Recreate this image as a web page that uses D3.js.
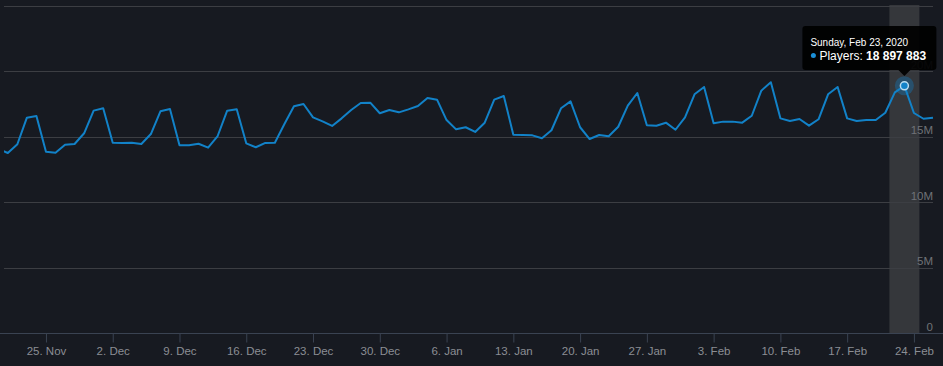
<!DOCTYPE html>
<html>
<head>
<meta charset="utf-8">
<script src="https://cdn.jsdelivr.net/npm/d3@7"></script>
<style>
  html, body { margin: 0; padding: 0; background: #171a21; }
  svg { display: block; font-family: "Liberation Sans", Arial, sans-serif; }
</style>
</head>
<body>
<svg id="chart" width="943" height="366"></svg>
<script>
// ---- data (daily players, millions), first day 2019-11-20 ----
const startDay = "2019-11-20";
const players = [
  14.07, 13.76, 14.43, 16.46, 16.59, 13.86, 13.78, 14.40, 14.45, 15.27,
  17.00, 17.18, 14.55, 14.53, 14.55, 14.45, 15.21, 16.95, 17.13, 14.35,
  14.35, 14.47, 14.17, 15.06, 17.00, 17.10, 14.50, 14.20, 14.53, 14.55,
  15.98, 17.33, 17.51, 16.49, 16.18, 15.83, 16.41, 17.05, 17.58, 17.61,
  16.80, 17.05, 16.87, 17.10, 17.35, 17.97, 17.84, 16.28, 15.57, 15.73,
  15.37, 16.08, 17.84, 18.12, 15.16, 15.14, 15.11, 14.89, 15.50, 17.18,
  17.71, 15.73, 14.83, 15.14, 15.04, 15.77, 17.38, 18.35, 15.88, 15.85,
  16.08, 15.54, 16.49, 18.25, 18.81, 16.03, 16.16, 16.16, 16.08, 16.61,
  18.53, 19.17, 16.41, 16.21, 16.36, 15.85, 16.34, 18.25, 18.81, 16.41,
  16.21, 16.28, 16.28, 16.84, 18.40, 18.897883, 16.82, 16.38, 16.46
];
const yTicks = [0, 5, 10, 15, 20, 25];
const yTickLabels = ["0", "5M", "10M", "15M", "20M", ""];
const xTickFormat = "%-d. %b";
const hoverDate = "2020-02-23";
const tooltipTitle = "Sunday, Feb 23, 2020";
const tooltipLabel = "Players: ";
const tooltipValue = "18 897 883";

// ---- layout ----
const W = 943, H = 366;
const plot = { left: 4, right: 933, top: 6, bottom: 333 };
const day = 864e5;
const t0 = new Date(startDay + "T00:00:00Z");
const data = players.map((v, i) => ({ date: new Date(+t0 + i * day), v: v * 1e6 }));
const lastDate = data[data.length - 1].date;
// visible window: ~97.4 days ending on the last point
const domainStart = new Date(+lastDate - 97.4 * day);

const x = d3.scaleUtc().domain([domainStart, lastDate]).range([plot.left, plot.right]);
const y = d3.scaleLinear().domain([0, 25e6]).range([plot.bottom, plot.top]);

const svg = d3.select("#chart");
svg.append("rect").attr("width", W).attr("height", H).attr("fill", "#171a21");

svg.append("defs").append("clipPath").attr("id", "clip")
  .append("rect").attr("x", plot.left).attr("y", 0)
  .attr("width", plot.right - plot.left + 2).attr("height", plot.bottom);

// crosshair band
const hd = new Date(hoverDate + "T00:00:00Z");
svg.append("rect")
  .attr("x", x(hd) - 15).attr("y", plot.top - 1)
  .attr("width", 30).attr("height", plot.bottom - plot.top + 1)
  .attr("fill", "#35373b");

// grid lines
svg.append("g").selectAll("line").data(yTicks.filter(d => d > 0)).join("line")
  .attr("x1", plot.left).attr("x2", plot.right)
  .attr("y1", d => Math.round(y(d * 1e6)) + 0.5).attr("y2", d => Math.round(y(d * 1e6)) + 0.5)
  .attr("stroke", "#3c3e43").attr("stroke-width", 1);

// x axis
const xAxis = d3.axisBottom(x)
  .ticks(d3.utcMonday.every(1))
  .tickFormat(d3.utcFormat(xTickFormat))
  .tickSize(9).tickSizeOuter(0).tickPadding(4);
const gx = svg.append("g").attr("transform", `translate(0,${plot.bottom + 0.5})`).call(xAxis);
gx.select(".domain").attr("stroke", "#3a4352").attr("d", `M0,0H${W}`);
gx.selectAll(".tick line").attr("stroke", "#3a4352");
gx.selectAll(".tick text").attr("fill", "#8b8e94").attr("font-size", 11.5)
  .attr("font-family", "'Liberation Sans', Arial, sans-serif");

// y labels (inside right, above grid lines)
const yAxis = d3.axisRight(y).tickValues(yTicks.map(d => d * 1e6))
  .tickFormat((d, i) => yTickLabels[i]).tickSize(0).tickPadding(0);
const gy = svg.append("g").attr("transform", `translate(${plot.right},0)`).call(yAxis);
gy.select(".domain").remove();
gy.selectAll(".tick text").attr("text-anchor", "end").attr("dy", "-3px")
  .attr("fill", "#6f7277").attr("font-size", 11.5)
  .attr("font-family", "'Liberation Sans', Arial, sans-serif");

// line
const line = d3.line().x(d => x(d.date)).y(d => y(d.v));
svg.append("path").datum(data)
  .attr("clip-path", "url(#clip)")
  .attr("fill", "none").attr("stroke", "#1282c8").attr("stroke-width", 2)
  .attr("stroke-linejoin", "round").attr("d", line);

// hover marker
const hp = data.find(d => +d.date === +hd);
svg.append("circle").attr("cx", x(hp.date)).attr("cy", y(hp.v)).attr("r", 9.5)
  .attr("fill", "#1282c8").attr("fill-opacity", 0.35);
svg.append("circle").attr("cx", x(hp.date)).attr("cy", y(hp.v)).attr("r", 4)
  .attr("fill", "#1282c8").attr("stroke", "#b9dcf0").attr("stroke-width", 1.5);

// tooltip
const tipW = 134, tipH = 44;
const tipX = x(hd) - 102, tipY = 26;
const tip = svg.append("g").attr("transform", `translate(${tipX},${tipY})`);
const ax = x(hd) - tipX;
tip.append("path")
  .attr("d", `M3,0H${tipW - 3}Q${tipW},0 ${tipW},3V${tipH - 3}Q${tipW},${tipH} ${tipW - 3},${tipH}` +
             `H${ax + 6}L${ax},${tipH + 6}L${ax - 6},${tipH}H3Q0,${tipH} 0,${tipH - 3}V3Q0,0 3,0Z`)
  .attr("fill", "#000").attr("fill-opacity", 0.92);
tip.append("text").attr("x", 8).attr("y", 20).attr("fill", "#fff")
  .attr("font-size", 10).attr("font-weight", "normal").text(tooltipTitle);
tip.append("circle").attr("cx", 11).attr("cy", 29.5).attr("r", 2.5).attr("fill", "#1a8fd8");
const t2 = tip.append("text").attr("x", 17).attr("y", 33.5).attr("fill", "#fff").attr("font-size", 12);
t2.append("tspan").text(tooltipLabel);
t2.append("tspan").attr("font-weight", "bold").text(tooltipValue);
</script>
</body>
</html>
